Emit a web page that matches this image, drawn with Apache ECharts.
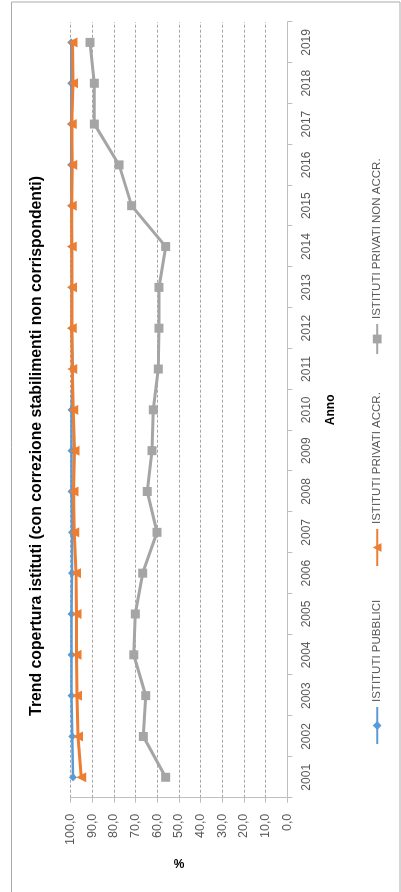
<!DOCTYPE html>
<html>
<head>
<meta charset="utf-8">
<script src="https://cdn.jsdelivr.net/npm/echarts@6/dist/echarts.min.js"></script>
<style>
  html, body { margin: 0; padding: 0; background: #fff; overflow: hidden; width: 401px; height: 892px; }
  #wrap { position: absolute; left: 0; top: 0; width: 892px; height: 401px;
          transform-origin: 0 0; transform: translate(0, 892px) rotate(-90deg); }
</style>
</head>
<body>
<div id="wrap"></div>
<script>
// ---- data ----
const years = ['2001','2002','2003','2004','2005','2006','2007','2008','2009','2010',
               '2011','2012','2013','2014','2015','2016','2017','2018','2019'];
const seriesNames = ['ISTITUTI PUBBLICI', 'ISTITUTI PRIVATI ACCR.', 'ISTITUTI PRIVATI NON ACCR.'];
const pubblici    = [98.8, 99.2, 99.5, 99.5, 99.5, 99.3, 99.3, 99.5, 99.5, 99.5,
                     99.0, 99.4, 99.4, 99.3, 99.5, 99.6, 99.6, 99.7, 99.7];
const privAccr    = [95.0, 96.5, 97.0, 97.2, 97.2, 97.5, 98.3, 98.6, 98.1, 98.7,
                     99.2, 99.4, 99.3, 99.4, 99.4, 99.2, 99.4, 98.9, 99.1];
const privNonAccr = [56.1, 66.4, 65.3, 70.8, 70.1, 66.7, 60.1, 64.6, 62.4, 61.8,
                     59.5, 59.2, 59.2, 56.1, 71.8, 77.6, 89.0, 89.0, 91.0];
const titleText = 'Trend copertura istituti (con correzione stabilimenti non corrispondenti)';
const xName = 'Anno';
const yName = '%';

// ---- chart ----
const FONT = "'Liberation Sans', Arial, sans-serif";
const chart = echarts.init(document.getElementById('wrap'), null, { renderer: 'canvas', width: 892, height: 401 });
const colors = ['#5B9BD5', '#ED7D31', '#A5A5A5'];
const lgText = { color: '#595959', fontSize: 11.5, fontFamily: FONT, lineHeight: 14 };

chart.setOption({
  animation: false,
  color: colors,
  title: {
    text: titleText, left: 'center', top: 29, padding: 0,
    textStyle: { fontSize: 15.8, fontWeight: 'bold', color: '#000', fontFamily: FONT }
  },
  graphic: [{
    type: 'rect', silent: true, z: -1,
    shape: { x: -3, y: 11.5, width: 893, height: 388.5 },
    style: { fill: 'none', stroke: '#ABABAB', lineWidth: 1 }
  }],
  legend: [
    { data: [seriesNames[0]], left: 147, top: 370.2, padding: 0, itemWidth: 37, itemHeight: 11, textStyle: lgText },
    { data: [seriesNames[1]], left: 325, top: 370.2, padding: 0, itemWidth: 37, itemHeight: 11, textStyle: lgText },
    { data: [seriesNames[2]], left: 537, top: 370.2, padding: 0, itemWidth: 30, itemHeight: 11, textStyle: lgText }
  ],
  grid: { left: 94.3, right: 22, top: 70.5, bottom: 113.7, containLabel: false },
  xAxis: {
    type: 'category', data: years, boundaryGap: true,
    name: xName, nameLocation: 'middle', nameGap: 37,
    nameTextStyle: { fontSize: 12, fontWeight: 'bold', color: '#000', fontFamily: FONT },
    axisLine: { lineStyle: { color: '#BFBFBF', width: 1 } },
    axisTick: { show: true, length: 5, alignWithLabel: false, lineStyle: { color: '#BFBFBF' } },
    axisLabel: { color: '#595959', fontSize: 12, fontFamily: FONT, margin: 13 },
    splitLine: { show: false }
  },
  yAxis: {
    type: 'value', min: 0, max: 100, interval: 10,
    name: yName, nameLocation: 'middle', nameGap: 59, nameRotate: 90,
    nameTextStyle: { fontSize: 12, fontWeight: 'bold', color: '#000', fontFamily: FONT },
    axisLine: { show: true, lineStyle: { color: '#BFBFBF', width: 1 } },
    axisTick: { show: true, length: 5, lineStyle: { color: '#BFBFBF' } },
    axisLabel: { color: '#595959', fontSize: 12.5, fontFamily: FONT, margin: 16,
                 formatter: v => v.toFixed(1).replace('.', ',') },
    splitLine: { show: true, lineStyle: { color: '#A6A6A6', type: [3, 2], width: 1 } }
  },
  series: [
    { name: seriesNames[0], type: 'line', data: pubblici, symbol: 'diamond', symbolSize: 8,
      lineStyle: { width: 2.5 }, itemStyle: { color: colors[0] }, z: 2 },
    { name: seriesNames[1], type: 'line', data: privAccr, symbol: 'triangle', symbolSize: 10,
      lineStyle: { width: 3 }, itemStyle: { color: colors[1] }, z: 3 },
    { name: seriesNames[2], type: 'line', data: privNonAccr, symbol: 'rect', symbolSize: 9,
      lineStyle: { width: 3 }, itemStyle: { color: colors[2] }, z: 4 }
  ]
});
</script>
</body>
</html>
